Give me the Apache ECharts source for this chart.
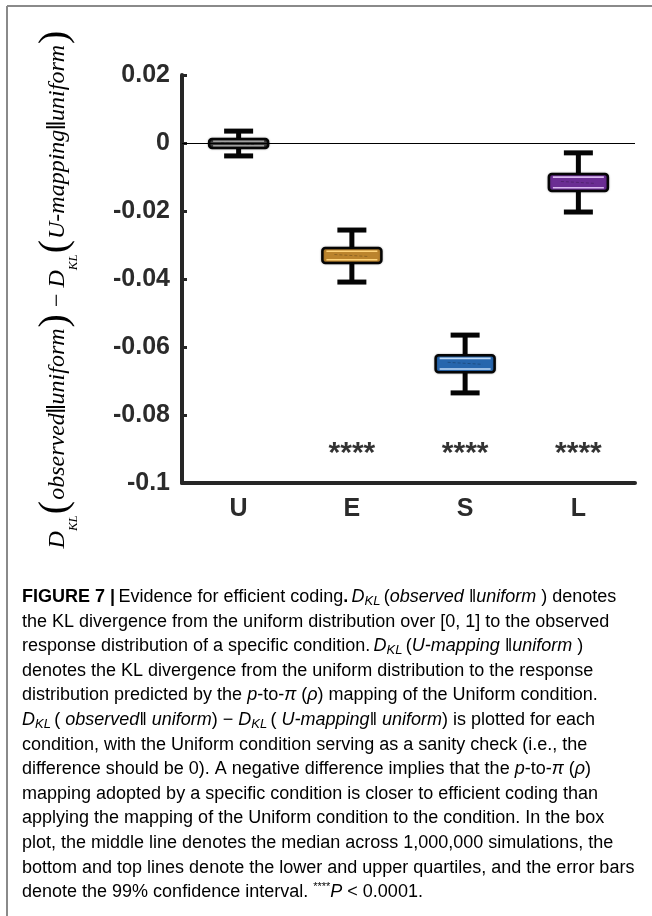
<!DOCTYPE html>
<html>
<head>
<meta charset="utf-8">
<script src="https://cdn.jsdelivr.net/npm/echarts@6/dist/echarts.min.js"></script>
<style>
  html, body { margin: 0; padding: 0; background: #fff; }
  #main { width: 652px; height: 916px; }
</style>
</head>
<body>
<div id="main"></div>
<script>
// conditions on the x axis
var categories = ['U', 'E', 'S', 'L'];
// box plot statistics
var lowWhisker = [-0.0038, -0.0409, -0.0735, -0.0203];
var q1 = [-0.0015, -0.0353, -0.0674, -0.0141];
var median = [-0.0002, -0.0331, -0.0648, -0.0116];
var q3 = [0.0012, -0.0309, -0.0624, -0.0091];
var highWhisker = [0.0035, -0.0256, -0.0565, -0.0029];
// significance marks
var sigLabels = ['', '****', '****', '****'];
var sigLevel = -0.0897;
// y axis ticks
var yMin = -0.1, yMax = 0.02, yStep = 0.02;

var boxFill = ['#3c3c3c', '#bb842d', '#2766ad', '#6b2d93'];
var boxStripe = ['#a0a0a0', '#ffd47a', '#c2dbf7', '#d9b8f0'];

var chart = echarts.init(document.getElementById('main'));

var boxData = categories.map(function (c, i) {
	return [i, lowWhisker[i], q1[i], median[i], q3[i], highWhisker[i]];
});
var sigData = categories.map(function (c, i) {
	return { value: [i, sigLevel], label: { formatter: sigLabels[i] } };
});

function renderBox(params, api) {
	var i = api.value(0);
	var pLow = api.coord([i, api.value(1)]);
	var pQ1 = api.coord([i, api.value(2)]);
	var pMed = api.coord([i, api.value(3)]);
	var pQ3 = api.coord([i, api.value(4)]);
	var pHigh = api.coord([i, api.value(5)]);
	var x = pLow[0];
	var bw = 59, cw = 29;
	var ink = '#050505';
	var top = pQ3[1], bot = pQ1[1];
	var h = bot - top;
	var inset = Math.min(3.2, h / 4);
	return {
		type: 'group',
		children: [
			{ type: 'line', shape: { x1: x, y1: pLow[1], x2: x, y2: bot }, style: { stroke: ink, lineWidth: 5 } },
			{ type: 'line', shape: { x1: x, y1: top, x2: x, y2: pHigh[1] }, style: { stroke: ink, lineWidth: 5 } },
			{ type: 'line', shape: { x1: x - cw / 2, y1: pLow[1], x2: x + cw / 2, y2: pLow[1] }, style: { stroke: ink, lineWidth: 5 } },
			{ type: 'line', shape: { x1: x - cw / 2, y1: pHigh[1], x2: x + cw / 2, y2: pHigh[1] }, style: { stroke: ink, lineWidth: 5 } },
			{ type: 'rect', shape: { x: x - bw / 2, y: top, width: bw, height: h, r: 3 },
				style: { fill: boxFill[i], stroke: ink, lineWidth: 2.5, shadowBlur: 2, shadowColor: 'rgba(0,0,0,0.35)' } },
			{ type: 'line', shape: { x1: x - bw / 2 + 4, y1: top + inset, x2: x + bw / 2 - 4, y2: top + inset },
				style: { stroke: boxStripe[i], lineWidth: 1.6 } },
			{ type: 'line', shape: { x1: x - bw / 2 + 4, y1: bot - inset, x2: x + bw / 2 - 4, y2: bot - inset },
				style: { stroke: boxStripe[i], lineWidth: 1.6 } },
			{ type: 'line', shape: { x1: x - bw / 2 + 12, y1: pMed[1] - 1, x2: x + bw / 2 - 12, y2: pMed[1] + 1 },
				style: { stroke: 'rgba(0,0,0,0.3)', lineWidth: 0.8, lineDash: [3, 2] } }
		]
	};
}

var yTitle = '{d|D}{sub|KL}{p|(}{i|observed}{bar|‖}{i|uniform}{p|)}{m| − }' +
	'{d|D}{sub|KL}{p|(}{i|U-mapping}{bar|‖}{i|uniform}{p|)}';

var serif = '"Liberation Serif", "DejaVu Serif", serif';
var sans = '"Liberation Sans", Arial, sans-serif';

var capStyle = {
	n: { fontFamily: sans, fontSize: 18, color: '#333', lineHeight: 21 },
	b: { fontFamily: sans, fontSize: 18, color: '#222', fontWeight: 'bold', lineHeight: 21 },
	i: { fontFamily: sans, fontSize: 18, color: '#333', fontStyle: 'italic', lineHeight: 21 },
	s: { fontFamily: sans, fontSize: 13, color: '#333', fontStyle: 'italic', lineHeight: 13, verticalAlign: 'bottom' },
	u: { fontFamily: sans, fontSize: 11, color: '#333', lineHeight: 21, verticalAlign: 'top' }
};

var captionLines = [
	'{b|FIGURE 7 |} {n|Evidence for efficient coding}{b|.} {i|D}{s|KL} {n|(}{i|observed ‖uniform }{n|) denotes}',
	'{n|the KL divergence from the uniform distribution over [0, 1] to the observed}',
	'{n|response distribution of a specific condition.} {i|D}{s|KL} {n|(}{i|U-mapping ‖uniform }{n|)}',
	'{n|denotes the KL divergence from the uniform distribution to the response}',
	'{n|distribution predicted by the }{i|p}{n|-to-}{i|π}{n| (}{i|ρ}{n|) mapping of the Uniform condition.}',
	'{i|D}{s|KL} {n|( }{i|observed‖ uniform}{n|) − }{i|D}{s|KL} {n|( }{i|U-mapping‖ uniform}{n|) is plotted for each}',
	'{n|condition, with the Uniform condition serving as a sanity check (i.e., the}',
	'{n|difference should be 0). A negative difference implies that the }{i|p}{n|-to-}{i|π}{n| (}{i|ρ}{n|)}',
	'{n|mapping adopted by a specific condition is closer to efficient coding than}',
	'{n|applying the mapping of the Uniform condition to the condition. In the box}',
	'{n|plot, the middle line denotes the median across 1,000,000 simulations, the}',
	'{n|bottom and top lines denote the lower and upper quartiles, and the error bars}',
	'{n|denote the 99% confidence interval. }{u|****}{i|P}{n| < 0.0001.}'
];

var graphics = [
	{ type: 'line', shape: { x1: 7, y1: 6, x2: 652, y2: 6 }, style: { stroke: '#8a8a8a', lineWidth: 2 } },
	{ type: 'line', shape: { x1: 7, y1: 6, x2: 7, y2: 916 }, style: { stroke: '#8a8a8a', lineWidth: 2 } },
	{
		type: 'text', x: 58, y: 289, rotation: Math.PI / 2,
		style: {
			text: yTitle, align: 'center', verticalAlign: 'middle',
			rich: {
				d: { fontFamily: serif, fontStyle: 'italic', fontSize: 24, color: '#222', lineHeight: 44 },
				sub: { fontFamily: serif, fontStyle: 'italic', fontSize: 13, color: '#222', lineHeight: 27, verticalAlign: 'bottom' },
				p: { fontFamily: serif, fontSize: 40, color: '#222', lineHeight: 44, padding: [0, 1, 5, 1] },
				i: { fontFamily: serif, fontStyle: 'italic', fontSize: 24, color: '#222', lineHeight: 44 },
				bar: { fontFamily: serif, fontSize: 27, color: '#222', lineHeight: 44, fontWeight: 'bold' },
				m: { fontFamily: serif, fontSize: 24, color: '#222', lineHeight: 44 }
			}
		}
	}
];
captionLines.forEach(function (line, k) {
	graphics.push({
		type: 'text', x: 22, y: 597 + k * 24.6,
		style: { text: line, align: 'left', verticalAlign: 'middle', rich: capStyle }
	});
});

var option = {
	animation: false,
	backgroundColor: '#fff',
	grid: { left: 182, right: 17, top: 75, bottom: 433 },
	xAxis: {
		type: 'category',
		data: categories,
		boundaryGap: true,
		axisLine: { onZero: false, lineStyle: { color: '#262626', width: 4 } },
		axisTick: { inside: true, alignWithLabel: true, length: 6, lineStyle: { color: '#262626', width: 3 } },
		axisLabel: { color: '#2b2b2b', fontFamily: sans, fontWeight: 'bold', fontSize: 25, margin: 14 },
		splitLine: { show: false }
	},
	yAxis: {
		type: 'value',
		min: yMin, max: yMax, interval: yStep,
		axisLine: { show: true, lineStyle: { color: '#262626', width: 4 } },
		axisTick: { show: true, inside: true, length: 5, lineStyle: { color: '#262626', width: 3 } },
		axisLabel: { color: '#2b2b2b', fontFamily: sans, fontWeight: 'bold', fontSize: 25, margin: 12 },
		splitLine: { show: false }
	},
	series: [{
		type: 'custom',
		renderItem: renderBox,
		encode: { x: 0, y: [1, 2, 3, 4, 5] },
		data: boxData,
		z: 3
	}, {
		type: 'scatter',
		data: sigData,
		symbolSize: 0,
		z: 2,
		label: {
			show: true, position: 'inside', color: '#000', offset: [0, 6],
			fontFamily: sans, fontWeight: 'bold', fontSize: 30
		},
		markLine: {
			silent: true, symbol: 'none',
			label: { show: false },
			emphasis: { disabled: true },
			lineStyle: { color: '#000', width: 1, type: 'solid' },
			data: [{ yAxis: 0 }]
		}
	}],
	graphic: graphics
};

chart.setOption(option);
</script>
</body>
</html>
